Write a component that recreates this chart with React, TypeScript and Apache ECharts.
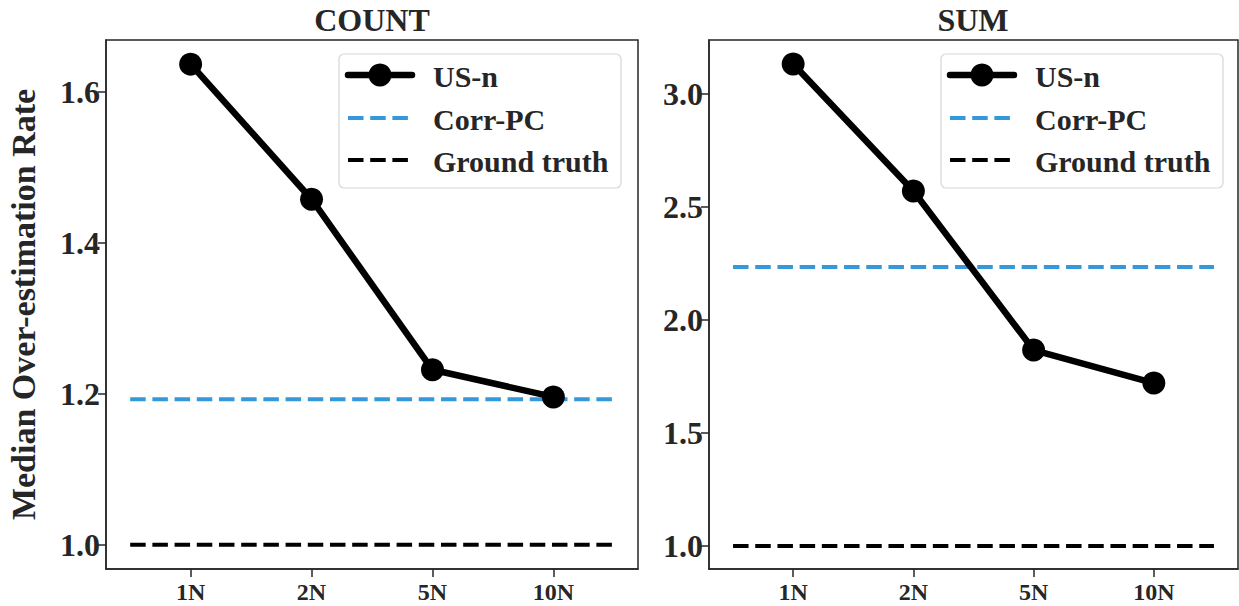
import React, { useEffect, useRef } from "react";
import * as echarts from "echarts";

const xLabels = ["1N", "2N", "5N", "10N"];
const xPositions = [0, 1, 2, 3];
const panelTitles = ["COUNT", "SUM"];
const usnCount = [1.637, 1.458, 1.232, 1.196];
const usnSum = [3.133, 2.571, 1.867, 1.721];
const corrPcCount = 1.193;
const corrPcSum = 2.235;
const groundTruth = 1.0;
const yTicksCount = [1.0, 1.2, 1.4, 1.6];
const yTicksSum = [1.0, 1.5, 2.0, 2.5, 3.0];
const seriesNames = ["US-n", "Corr-PC", "Ground truth"];

const FONT = "'Liberation Serif', 'Times New Roman', serif";
const TEXT = "#262626";
const BLUE = "#3498db";
const DASH = [15.5, 6.7];

export default function App() {
  const ref = useRef<HTMLDivElement>(null);
  useEffect(() => {
    document.body.style.margin = "0";
    const chart = echarts.init(ref.current!, null, { renderer: "svg" });

    const grids = [
      { left: 106, top: 40, width: 532, height: 529 },
      { left: 709, top: 40, width: 529, height: 529 },
    ];
    const yRanges = [
      { min: 0.968, max: 1.669, ticks: yTicksCount },
      { min: 0.898, max: 3.239, ticks: yTicksSum },
    ];

    const xAxis = grids.map((_, i) => ({
      gridIndex: i,
      type: "value",
      min: -0.7,
      max: 3.7,
      axisLine: { show: true, onZero: false, lineStyle: { color: TEXT, width: 1.5 } },
      axisTick: { show: true, length: 8, customValues: xPositions, lineStyle: { color: TEXT, width: 1.5 } },
      axisLabel: {
        customValues: xPositions,
        formatter: (v: number) => xLabels[Math.round(v)] ?? "",
        fontSize: 24,
        fontWeight: "bold",
        fontFamily: FONT,
        color: TEXT,
        margin: 11,
      },
      splitLine: { show: false },
    }));

    const yAxis = yRanges.map((r, i) => ({
      gridIndex: i,
      type: "value",
      min: r.min,
      max: r.max,
      name: i === 0 ? "Median Over-estimation Rate" : "",
      nameLocation: "middle",
      nameGap: 66,
      nameTextStyle: { fontSize: 34, fontWeight: "bold", fontFamily: FONT, color: TEXT },
      axisLine: { show: true, onZero: false, lineStyle: { color: TEXT, width: 1.5 } },
      axisTick: { show: true, length: 8, customValues: r.ticks, lineStyle: { color: TEXT, width: 1.5 } },
      axisLabel: {
        customValues: r.ticks,
        formatter: (v: number) => v.toFixed(1),
        fontSize: 32,
        fontWeight: "bold",
        fontFamily: FONT,
        color: TEXT,
        margin: 6,
      },
      splitLine: { show: false },
    }));

    const usn = [usnCount, usnSum];
    const corr = [corrPcCount, corrPcSum];
    const series: any[] = [];
    for (let i = 0; i < 2; i++) {
      series.push({
        name: seriesNames[2],
        type: "line",
        xAxisIndex: i,
        yAxisIndex: i,
        data: [[-0.5, groundTruth], [3.5, groundTruth]],
        symbol: "none",
        lineStyle: { color: "#000", width: 4, type: DASH },
        z: 2,
      });
      series.push({
        name: seriesNames[1],
        type: "line",
        xAxisIndex: i,
        yAxisIndex: i,
        data: [[-0.5, corr[i]], [3.5, corr[i]]],
        symbol: "none",
        lineStyle: { color: BLUE, width: 4, type: DASH },
        z: 2,
      });
      series.push({
        name: seriesNames[0],
        type: "line",
        xAxisIndex: i,
        yAxisIndex: i,
        data: xPositions.map((x, k) => [x, usn[i][k]]),
        symbol: "circle",
        symbolSize: 23,
        lineStyle: { color: "#000", width: 6.5 },
        itemStyle: { color: "#000" },
        z: 3,
      });
    }

    const legendText = { fontSize: 30, fontWeight: "bold", fontFamily: FONT, fill: TEXT, verticalAlign: "middle" };
    const legendBoxes = [339, 941].map((bx) => ({
      type: "group",
      x: bx,
      y: 54,
      z: 100,
      children: [
        {
          type: "rect",
          shape: { x: 0, y: 0, width: 282, height: 134, r: 5 },
          style: { fill: "rgba(255,255,255,0.85)", stroke: "#d6d6d6", lineWidth: 1.2 },
        },
        { type: "line", shape: { x1: 9, y1: 21, x2: 73, y2: 21 }, style: { stroke: "#000", lineWidth: 6.5, lineCap: "round" } },
        { type: "circle", shape: { cx: 41, cy: 21, r: 11.5 }, style: { fill: "#000" } },
        { type: "text", x: 94, y: 22, style: { text: seriesNames[0], ...legendText } },
        { type: "line", shape: { x1: 9, y1: 64, x2: 73, y2: 64 }, style: { stroke: BLUE, lineWidth: 4, lineDash: DASH } },
        { type: "text", x: 94, y: 65, style: { text: seriesNames[1], ...legendText } },
        { type: "line", shape: { x1: 9, y1: 106, x2: 73, y2: 106 }, style: { stroke: "#000", lineWidth: 4, lineDash: DASH } },
        { type: "text", x: 94, y: 107, style: { text: seriesNames[2], ...legendText } },
      ],
    }));

    const titles = [372, 973].map((cx, i) => ({
      type: "text",
      x: cx,
      y: 20,
      style: {
        text: panelTitles[i],
        fontSize: 32,
        fontWeight: "bold",
        fontFamily: FONT,
        fill: TEXT,
        align: "center",
        verticalAlign: "middle",
      },
    }));

    chart.setOption({
      animation: false,
      backgroundColor: "#fff",
      grid: grids.map((g) => ({ ...g, show: true, borderColor: TEXT, borderWidth: 1.5, backgroundColor: "#fff" })),
      xAxis,
      yAxis,
      series,
      graphic: [...titles, ...legendBoxes],
    });
    return () => chart.dispose();
  }, []);
  return <div ref={ref} style={{ width: 1239, height: 606 }} />;
}
